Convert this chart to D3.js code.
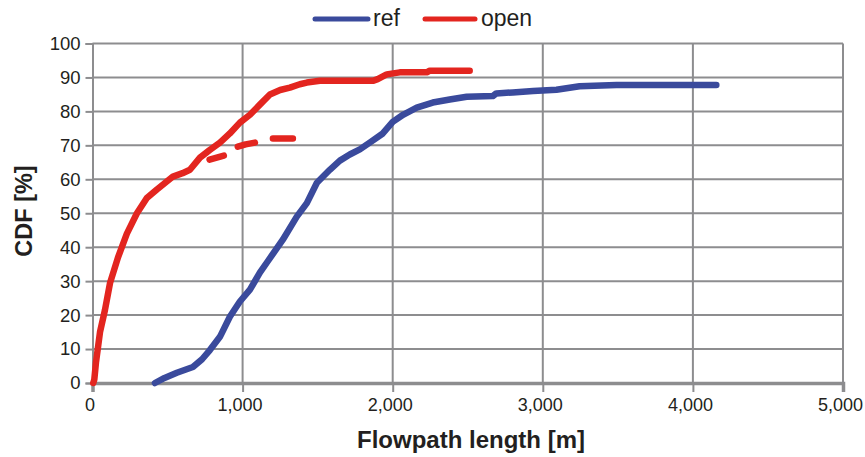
<!DOCTYPE html>
<html>
<head>
<meta charset="utf-8">
<script src="https://cdn.jsdelivr.net/npm/d3@7"></script>
<style>
  html, body { margin: 0; padding: 0; background: #fff; }
  svg { display: block; font-family: "Liberation Sans", Arial, sans-serif; }
</style>
</head>
<body>
<svg id="chart" width="865" height="457"></svg>
<script>
// Cumulative distribution of flowpath lengths, two scenarios
const seriesNames = ["ref", "open"];

const refLength = [416, 480, 562, 669, 730, 782, 849, 915, 982, 1049, 1115, 1162, 1268, 1361, 1428,
  1495, 1581, 1648, 1714, 1781, 1847, 1934, 2000, 2069, 2160, 2267, 2380, 2493, 2667, 2690, 2800,
  2935, 3091, 3245, 3491, 4156];
const refCdf = [0, 1.5, 3, 4.7, 7, 9.7, 13.6, 19.5, 24, 27.5, 32.5, 35.5, 42.2, 49, 53,
  59, 62.8, 65.5, 67.3, 68.8, 70.8, 73.5, 76.9, 79, 81.1, 82.6, 83.5, 84.3, 84.5, 85.3, 85.6,
  86, 86.4, 87.4, 87.8, 87.8];

// main run of the "open" curve, then three short detached runs (null = break)
const openLength = [5, 12, 23, 50, 83, 117, 170, 229, 296, 362, 429, 536, 600, 649, 716, 780, 849,
  915, 982, 1049, 1115, 1182, 1250, 1315, 1381, 1428, 1515, 1868, 1900, 1960, 2047, 2227, 2247, 2513,
  null, 780, 875,
  null, 968, 1020, 1082,
  null, 1202, 1335];
const openCdf = [0, 1, 6, 15, 21.5, 29.5, 37, 44, 50, 54.5, 57, 60.8, 61.8, 62.8, 66.4, 68.6, 70.8,
  73.5, 76.7, 79, 82, 85, 86.3, 87, 88, 88.5, 89, 89, 89.5, 90.9, 91.5, 91.5, 92, 92,
  null, 65.8, 67,
  null, 69.6, 70.3, 70.8,
  null, 72, 72];

const xTicks = [0, 1000, 2000, 3000, 4000, 5000];
const yTicks = [0, 10, 20, 30, 40, 50, 60, 70, 80, 90, 100];

const colors = { ref: "#3a4a9c", open: "#e3251f" };
const gridColor = "#8d8d8f";
const fontFamily = "Liberation Sans, Arial, sans-serif";

const svg = d3.select("#chart");
const plotLeft = 92.5, plotRight = 843, plotTop = 43.5, plotBottom = 383;

const x = d3.scaleLinear().domain([0, 5000]).range([plotLeft, plotRight]);
const y = d3.scaleLinear().domain([0, 100]).range([plotBottom, plotTop]);

// horizontal grid
svg.append("g").selectAll("line").data(yTicks.filter(d => d > 0)).join("line")
  .attr("x1", plotLeft).attr("x2", plotRight)
  .attr("y1", d => y(d)).attr("y2", d => y(d))
  .attr("stroke", gridColor).attr("stroke-width", 2);

// vertical grid
svg.append("g").selectAll("line").data(xTicks.filter(d => d > 0)).join("line")
  .attr("x1", d => x(d)).attr("x2", d => x(d))
  .attr("y1", plotTop).attr("y2", plotBottom)
  .attr("stroke", gridColor).attr("stroke-width", 2);

// y axis
const yAxis = svg.append("g").attr("transform", `translate(${plotLeft},0)`)
  .call(d3.axisLeft(y).tickValues(yTicks).tickSize(7).tickPadding(5));
yAxis.select(".domain").attr("stroke", gridColor).attr("stroke-width", 2);
yAxis.selectAll(".tick line").attr("stroke", gridColor).attr("stroke-width", 2);
yAxis.selectAll(".tick text").attr("font-size", 18.5).attr("fill", "#231f20")
  .attr("font-family", fontFamily);

// x axis
const xAxis = svg.append("g").attr("transform", `translate(0,${plotBottom})`)
  .call(d3.axisBottom(x).tickValues(xTicks).tickSize(9).tickPadding(6)
    .tickFormat(d3.format(",")));
xAxis.select(".domain").attr("stroke", gridColor).attr("stroke-width", 3.5);
xAxis.selectAll(".tick line").attr("stroke", gridColor).attr("stroke-width", 2);
xAxis.selectAll(".tick text").attr("font-size", 18).attr("fill", "#231f20")
  .attr("font-family", fontFamily).attr("dx", -3);

// series
const line = d3.line()
  .defined(d => d[0] !== null && d[1] !== null)
  .x(d => x(d[0])).y(d => y(d[1]));

const refPts = d3.zip(refLength, refCdf);
const openPts = d3.zip(openLength, openCdf);

svg.append("path").datum(refPts).attr("d", line)
  .attr("fill", "none").attr("stroke", colors.ref).attr("stroke-width", 6.5)
  .attr("stroke-linecap", "round").attr("stroke-linejoin", "round");
svg.append("path").datum(openPts).attr("d", line)
  .attr("fill", "none").attr("stroke", colors.open).attr("stroke-width", 6.5)
  .attr("stroke-linecap", "round").attr("stroke-linejoin", "round");

// legend
const legendItems = [
  { name: seriesNames[0], x1: 315, x2: 368, tx: 373 },
  { name: seriesNames[1], x1: 425, x2: 475, tx: 481 }
];
const lg = svg.append("g");
lg.selectAll("line").data(legendItems).join("line")
  .attr("x1", d => d.x1).attr("x2", d => d.x2).attr("y1", 19).attr("y2", 19)
  .attr("stroke", d => colors[d.name]).attr("stroke-width", 5).attr("stroke-linecap", "round");
lg.selectAll("text").data(legendItems).join("text")
  .attr("x", d => d.tx).attr("y", 26).attr("font-size", 23).attr("fill", "#231f20")
  .attr("font-family", fontFamily)
  .text(d => d.name);

// axis titles
svg.append("text").attr("x", 471).attr("y", 448).attr("text-anchor", "middle")
  .attr("font-size", 24).attr("font-weight", "bold").attr("fill", "#231f20")
  .attr("font-family", fontFamily)
  .text("Flowpath length [m]");
svg.append("text").attr("transform", "translate(32,211) rotate(-90)")
  .attr("text-anchor", "middle").attr("font-size", 23.5).attr("font-weight", "bold")
  .attr("font-family", fontFamily)
  .attr("fill", "#231f20").text("CDF [%]");
</script>
</body>
</html>
